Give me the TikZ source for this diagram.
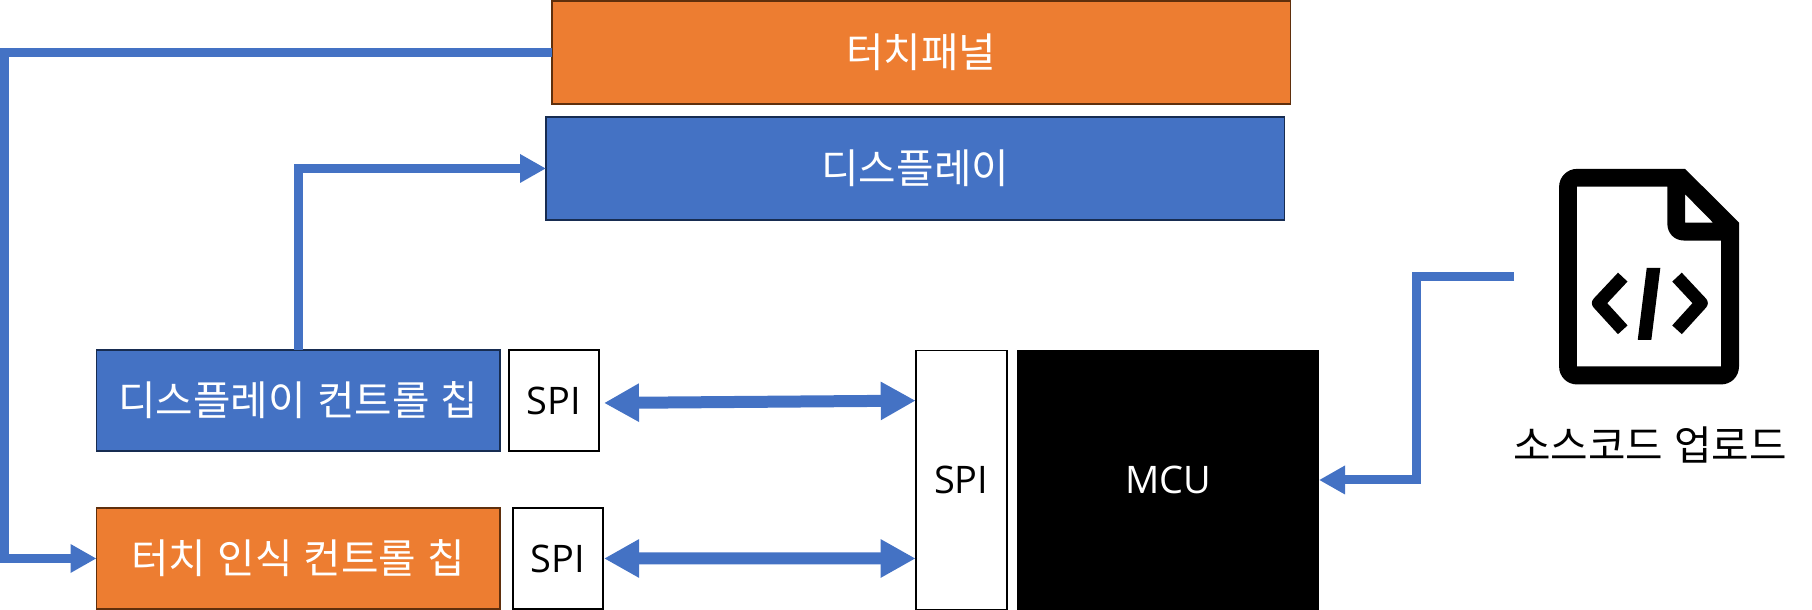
\documentclass[tikz,border=0pt]{standalone}
\usepackage{fontspec}
\setmainfont{Open Sans}
\newfontfamily\kofont[WordSpace=1.25]{Noto Sans CJK KR}
\usetikzlibrary{arrows.meta, positioning}

\definecolor{fillblue}{HTML}{4472C4}
\definecolor{fillorange}{HTML}{ED7D31}
\definecolor{edgeblue}{HTML}{172C51}
\definecolor{edgeorange}{HTML}{5F2F0C}

\begin{document}
\begin{tikzpicture}[
            node distance = 0.1cm, % gaps are set per node
            box/.style = {draw, line width=0.16mm, outer sep=0pt, inner sep=0pt,
                font=\fontsize{10.8}{13}\selectfont},
            bluebox/.style = {box, draw=edgeblue, fill=fillblue, text=white},
            orangebox/.style = {box, draw=edgeorange, fill=fillorange, text=white},
            spibox/.style = {box, draw=black, fill=white, minimum width=0.9cm},
            chipsize/.style = {minimum width=4.035cm, minimum height=1.01cm},
            widesize/.style = {minimum width=7.385cm, minimum height=1.025cm},
            kotext/.style = {font=\kofont\fontsize{11.6}{14}\selectfont},
            flow/.style = {draw=fillblue, line width=0.9mm,
                -{Triangle[length=2.6mm, width=2.7mm]}},
            busflow/.style = {draw=fillblue, line width=1.2mm,
                {Triangle[length=3.5mm, width=3.6mm]}-{Triangle[length=3.5mm, width=3.6mm]}}
        ]
        \useasboundingbox (0,0) rectangle (18.12,6.10);

        \node[orangebox, widesize, kotext] (tpanel) at (9.2125,5.575) {터치패널};
        \node[bluebox, widesize, kotext] (display) at (9.1525,4.415) {디스플레이};

        \node[bluebox, chipsize, kotext] (dchip) at (2.9825,2.095) {디스플레이 컨트롤 칩};
        \node[spibox, minimum height=1.01cm] (dspi) [right=0.09cm of dchip] {SPI};
        \node[orangebox, chipsize, kotext] (tchip) [below=0.57cm of dchip] {터치 인식 컨트롤 칩};
        \node[spibox, minimum height=1.01cm] (tspi) [right=0.13cm of tchip] {SPI};

        \node[box, draw=none, fill=black, text=white, minimum width=3.02cm, minimum height=2.6cm] (mcu) at (11.68,1.30) {MCU};
        \node[spibox, minimum width=0.91cm, minimum height=2.587cm] (mspi) [left=0.103cm of mcu] {SPI};

        \node[kotext, inner sep=0pt] (upload) at (16.5,1.65) {소스코드 업로드};

        % free ends and bends of the connectors
        \coordinate (rail) at (0.045,3);
        \coordinate (source) at (15.14,3.33);
        \coordinate (bend) at (14.165,3);

        \draw[flow] (tpanel.west) -| (rail) |- (tchip.west);
        \draw[flow] (dchip.north) |- (display.west);
        \draw[flow] (source) -| (bend) |- (mcu.east);
        \draw[busflow] ([xshift=0.05cm,yshift=-0.025cm]dspi.east) -- ([yshift=-0.5cm]mspi.north west);
        \draw[busflow] ([xshift=0.01cm]tspi.east) -- ([yshift=0.5085cm]mspi.south west);

        % file icon
        \begin{scope}[shift={(0.01,6.10)}, x=0.01cm, y=-0.01cm]
            \fill[black, even odd rule]
                (1577,169) -- (1685,169) -- (1739,222.7) -- (1739,366.7)
                .. controls (1739,377) and (1731,384.7) .. (1721,384.7) -- (1577,384.7)
                .. controls (1567,384.7) and (1559,377) .. (1559,366.7) -- (1559,187)
                .. controls (1559,177) and (1567,169) .. (1577,169) -- cycle
                (1576.7,186.7) -- (1667.3,186.7) -- (1667.3,224)
                .. controls (1667.3,233) and (1674,240.7) .. (1684,240.7)
                -- (1721,240.7) -- (1721,366.7) -- (1576.7,366.7) -- cycle
                (1685,194.3) -- (1713,222.7) -- (1685,222.7) -- cycle;
            \draw[black, line width=1.3mm, line join=round] (1622.7,277.3) -- (1598.3,303.3) -- (1622.7,330);
            \draw[black, line width=1.3mm, line join=round] (1677,277.3) -- (1701.3,303.3) -- (1677,330);
            \fill[black] (1646.7,268) -- (1660.3,268) -- (1651.3,340) -- (1637.7,340) -- cycle;
        \end{scope}
\end{tikzpicture}
\end{document}
